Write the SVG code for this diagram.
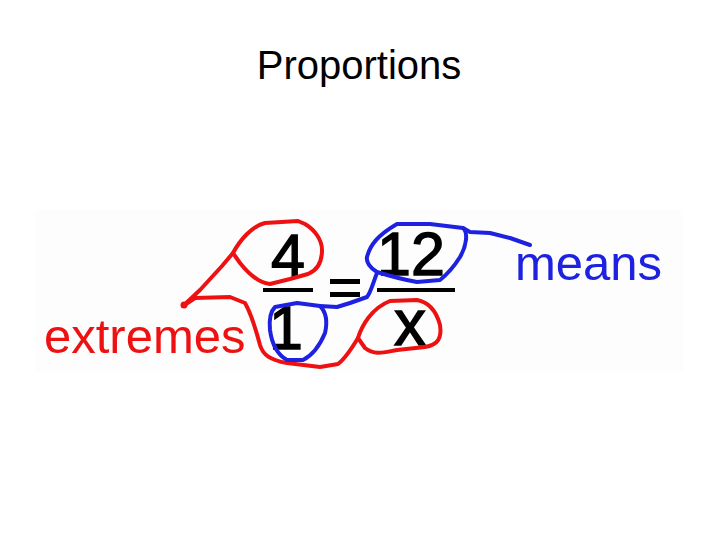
<svg xmlns="http://www.w3.org/2000/svg" width="720" height="540" viewBox="0 0 720 540">
<style>
.title{font-family:"Liberation Sans",Arial,sans-serif;font-size:40px;fill:#000;text-anchor:middle}
.num{font-family:"Liberation Sans",Arial,sans-serif;font-size:61px;fill:#000;text-anchor:middle;stroke:#000;stroke-width:1.4}
.lbl{font-family:"Liberation Sans",Arial,sans-serif;font-size:49px}
.red{fill:none;stroke:#ee1111;stroke-width:4;stroke-linejoin:round;stroke-linecap:round}
.blue{fill:none;stroke:#1e22e0;stroke-width:4;stroke-linejoin:round;stroke-linecap:round}
.bar{fill:#000}
</style>
<rect width="720" height="540" fill="#fff"/>
<text class="title" x="359" y="79">Proportions</text>
<rect x="35" y="210" width="648" height="163" fill="#fdfdfd"/>
<g id="equation">
<text class="num" x="288" y="277">4</text>
<rect class="bar" x="263" y="288" width="50" height="4"/>
<text class="num" x="286" y="349">1</text>
<rect class="bar" x="330" y="279" width="30" height="5"/>
<rect class="bar" x="330" y="292" width="30" height="5"/>
<text class="num" x="411" y="275">12</text>
<rect class="bar" x="377" y="288" width="78" height="4"/>
<text class="num" x="410" y="345" style="font-size:64px">x</text>
</g>
<g id="extremes">
<text class="lbl" x="44" y="353" fill="#ee1111">extremes</text>
</g>
<g id="means">
<text class="lbl" x="515" y="280" fill="#1e22e0">means</text>
</g>
<g id="connectors">
<path class="red" d="M183,306 L200,290 L222,266 L233,253"/>
<path class="red" d="M233,253 C240,240 252,226 265,223 L298,221 L305,224 C315,230 322,240 322,250 C322,262 318,270 308,274 L290,279 L270,284 C258,283 248,273 240,263 Z"/>
<path class="red" d="M183,306 L195,298 L230,297 L245,303 C252,315 256,330 260,345 C263,355 270,360 287,363 L320,367 L338,364 C346,358 352,348 358,338"/>
<path class="red" d="M358,338 C362,325 372,308 390,301 L417,300 C428,302 436,310 440,325 C442,338 438,345 425,347 L397,350 C385,352 375,356 365,348 Z"/>
<circle cx="184" cy="305" r="3.5" fill="#ee1111"/>
<path class="blue" d="M275,307 L297,303 L320,306 C326,312 328,320 325,333 C320,345 313,355 303,360 L287,360 C278,355 272,345 270,330 C269,320 270,312 275,307 Z"/>
<path class="blue" d="M320,306 L337,307 L350,303 L367,297 C371,292 373,283 377,273"/>
<path class="blue" d="M367,257 C370,245 378,235 397,224 L430,224 L463,228 C468,232 467,245 460,257 C455,265 450,272 440,280 L417,282 C405,280 390,276 377,272 C370,268 366,262 367,257 Z"/>
<path class="blue" d="M463,228 L470,232 L490,233 L510,238 L530,245"/>
</g>
</svg>
